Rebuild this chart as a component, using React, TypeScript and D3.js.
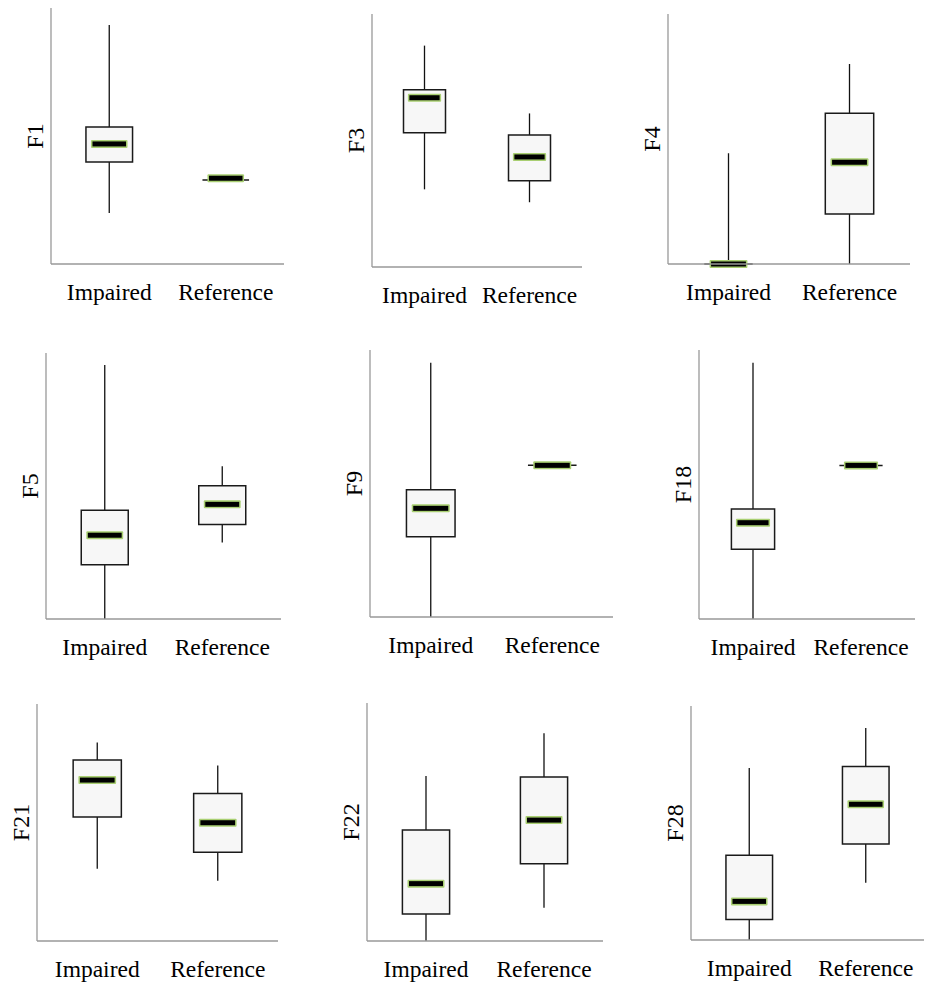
import * as d3 from "d3";
import React from "react";

// one box plot per feature, two groups each
const features = ["F1", "F3", "F4", "F5", "F9", "F18", "F21", "F22", "F28"];
const groups = ["Impaired", "Reference"];

// values on a 0-100 scale of each panel's axis
const impairedMax = [93.4, 87.5, 44.3, 95.5, 95.2, 95.3, 83.8, 69.3, 73.5];
const impairedQ3 = [53.5, 70.1, 0, 40.9, 47.7, 40.9, 76.4, 46.6, 36.2];
const impairedMedian = [46.9, 66.9, 0, 31.5, 40.7, 35.8, 67.9, 24.1, 16.5];
const impairedQ1 = [39.8, 53.1, 0, 20.4, 30.1, 25.9, 52.3, 11.3, 8.8];
const impairedMin = [19.9, 30.7, 0, 0, 0, 0, 30.5, 0, 0];

const referenceMax = [32.8, 60.7, 80, 57.4, 56.8, 57.1, 74.1, 87.3, 90.6];
const referenceQ3 = [32.8, 52.2, 60.3, 50.1, 56.8, 57.1, 62.2, 68.9, 74.1];
const referenceMedian = [33.5, 43.5, 40.7, 43.1, 56.8, 57.1, 49.9, 50.8, 58.0];
const referenceQ1 = [32.8, 34.1, 20, 35.5, 56.8, 57.1, 37.4, 32.5, 41.0];
const referenceMin = [32.8, 25.6, 0, 28.8, 56.8, 57.1, 25.4, 14.0, 24.5];

// panel frames (axis x, top, bottom, right end of x axis)
const panels = [
  { left: 51, top: 8, bottom: 264, right: 284 },
  { left: 372, top: 14, bottom: 267, right: 582 },
  { left: 668, top: 14, bottom: 264, right: 910 },
  { left: 46, top: 353, bottom: 619, right: 281 },
  { left: 370, top: 350, bottom: 617, right: 613 },
  { left: 699, top: 350, bottom: 619, right: 915 },
  { left: 37, top: 704, bottom: 941, right: 278 },
  { left: 367, top: 703, bottom: 941, right: 603 },
  { left: 691, top: 706, bottom: 940, right: 924 },
];

const serif = '"Liberation Serif", "DejaVu Serif", serif';
const catStyle = { fontFamily: serif, fontSize: "23.5px" };
const featStyle = { fontFamily: serif, fontSize: "24px" };

function BoxPanel({ i }: { i: number }) {
  const p = panels[i];
  const x = d3.scalePoint().domain(groups).range([p.left, p.right]).padding(0.5);
  const y = d3.scaleLinear().domain([0, 100]).range([p.bottom, p.top]);
  const boxW = (p.right - p.left) * 0.2;
  const medW = boxW * 0.72;

  const stats = [
    { g: "Impaired", min: impairedMin[i], q1: impairedQ1[i], med: impairedMedian[i], q3: impairedQ3[i], max: impairedMax[i] },
    { g: "Reference", min: referenceMin[i], q1: referenceQ1[i], med: referenceMedian[i], q3: referenceQ3[i], max: referenceMax[i] },
  ];

  return (
    <g>
      {stats.map((s) => {
        const cx = x(s.g)!;
        const x0 = cx - boxW / 2;
        const x1 = cx + boxW / 2;
        return (
          <g key={s.g}>
            <line x1={cx} x2={cx} y1={y(s.q3)} y2={y(s.max)} stroke="#111" strokeWidth={1.3} />
            <line x1={cx} x2={cx} y1={y(s.q1)} y2={y(s.min)} stroke="#111" strokeWidth={1.3} />
            <path
              d={`M${x0},${y(s.q3)}H${x1}V${y(s.q1)}H${x0}Z`}
              fill="#f7f7f7"
              stroke="#1a1a1a"
              strokeWidth={1.5}
            />
            <rect x={cx - medW / 2 - 1.5} y={y(s.med) - 4} width={medW + 3} height={8} rx={1} fill="#a9cf72" />
            <rect x={cx - medW / 2} y={y(s.med) - 2.5} width={medW} height={5} fill="#000" />
          </g>
        );
      })}
      <line x1={p.left} x2={p.left} y1={p.top} y2={p.bottom} stroke="#999" strokeWidth={1.3} />
      <line x1={p.left} x2={p.right} y1={p.bottom} y2={p.bottom} stroke="#999" strokeWidth={1.3} />
      {groups.map((g) => (
        <text key={g} x={x(g)} y={p.bottom + 36} textAnchor="middle" style={catStyle} fill="#000">
          {g}
        </text>
      ))}
      <text
        transform={`translate(${p.left - 16},${(p.top + p.bottom) / 2}) rotate(-90)`}
        textAnchor="middle"
        dy="0.33em"
        style={featStyle}
        fill="#000"
      >
        {features[i]}
      </text>
    </g>
  );
}

export default function App() {
  return (
    <svg width={933} height={983} style={{ position: "absolute", left: 0, top: 0, background: "#fff" }}>
      {features.map((f, i) => (
        <BoxPanel key={f} i={i} />
      ))}
    </svg>
  );
}
